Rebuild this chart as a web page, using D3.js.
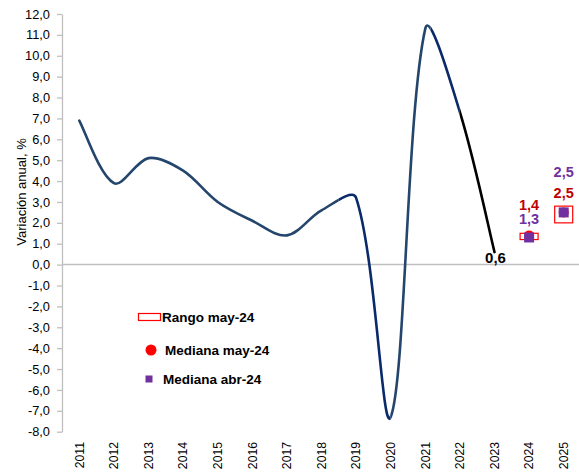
<!DOCTYPE html>
<html>
<head>
<meta charset="utf-8">
<script src="https://cdn.jsdelivr.net/npm/d3@7"></script>
<style>
  body { margin: 0; background: #fff; }
  text { font-family: "Liberation Sans", Arial, sans-serif; }
</style>
</head>
<body>
<script>
// Data
const years = [2011, 2012, 2013, 2014, 2015, 2016, 2017, 2018, 2019, 2020, 2021, 2022, 2023, 2024, 2025];
const histYears = [2011, 2012, 2013, 2014, 2015, 2016, 2017, 2018, 2019, 2020, 2021, 2022, 2023];
const histValues = [6.9, 3.9, 5.1, 4.5, 3.0, 2.1, 1.4, 2.6, 3.2, -7.3, 11.3, 7.3, 0.6];
const forecastYears = [2024, 2025];
const rangeLow = [1.2, 2.0];
const rangeHigh = [1.5, 2.8];
const medianMay = [1.4, 2.5];
const medianApr = [1.3, 2.5];
const yTicks = d3.range(-8, 13, 1);
// colour pieces of the historical line (in years)
const segFrom = [2010.5, 2018.5, 2020.0, 2021.15, 2022.0];
const segTo = [2018.5, 2020.0, 2021.15, 2022.0, 2025.5];
const segColor = ["#24466c", "#0a2a6a", "#24466c", "#0a2a6a", "#000000"];

const width = 579, height = 473;
const margin = {top: 14, right: -2, bottom: 41, left: 62};

const svg = d3.select("body").append("svg")
    .attr("width", width)
    .attr("height", height);

const x = d3.scaleLinear()
    .domain([2010.5, 2025.5])
    .range([margin.left, width - margin.right]);

const y = d3.scaleLinear()
    .domain([-8, 12])
    .range([height - margin.bottom - 0.3, margin.top]);

const fmt = d => d.toFixed(1).replace(".", ",");

// Y axis
const yAxis = svg.append("g")
    .attr("transform", `translate(${margin.left},0)`)
    .call(d3.axisLeft(y).tickValues(yTicks).tickFormat(fmt).tickSize(5).tickSizeOuter(0).tickPadding(7));
yAxis.select(".domain").attr("stroke", "#bfbfbf").attr("stroke-width", 1.3);
yAxis.selectAll(".tick line").attr("stroke", "#bfbfbf").attr("stroke-width", 1.3);
yAxis.selectAll(".tick text")
    .attr("font-size", 12.8)
    .attr("fill", "#000")
    .style("font-family", "Liberation Sans, Arial, sans-serif");

// Zero line
svg.append("line")
    .attr("x1", margin.left).attr("x2", width)
    .attr("y1", y(0)).attr("y2", y(0))
    .attr("stroke", "#bfbfbf")
    .attr("stroke-width", 1.5);

// Y title
svg.append("text")
    .attr("transform", `translate(21,${192}) rotate(-90)`)
    .attr("text-anchor", "middle")
    .attr("dy", "0.35em")
    .attr("font-size", 13)
    .text("Variación anual, %");

// X labels
svg.append("g").selectAll("text")
    .data(years)
    .join("text")
    .attr("transform", d => `translate(${x(d)},442) rotate(-90)`)
    .attr("text-anchor", "end")
    .attr("dy", "0.35em")
    .attr("font-size", 12.2)
    .text(d => d);

// Smoothed line a la spreadsheet: bezier with tangents (P[i+1]-P[i-1])/6,
// scaled by neighbouring segment lengths
function smoothPath(pts) {
    const n = pts.length;
    const dist = (a, b) => Math.hypot(b[0] - a[0], b[1] - a[1]);
    const tan = pts.map((p, i) => {
        const a = pts[Math.max(0, i - 1)], b = pts[Math.min(n - 1, i + 1)];
        return [(b[0] - a[0]) / 6, (b[1] - a[1]) / 6];
    });
    const p = d3.path();
    p.moveTo(pts[0][0], pts[0][1]);
    for (let i = 0; i < n - 1; i++) {
        const p0 = pts[i], p1 = pts[i + 1];
        const d = dist(p0, p1);
        const sOut = i > 0 ? 2 * d / (dist(pts[i - 1], p0) + d) : 1;
        const sIn = i + 2 < n ? 2 * d / (d + dist(p1, pts[i + 2])) : 1;
        p.bezierCurveTo(
            p0[0] + tan[i][0] * sOut, p0[1] + tan[i][1] * sOut,
            p1[0] - tan[i + 1][0] * sIn, p1[1] - tan[i + 1][1] * sIn,
            p1[0], p1[1]);
    }
    return p.toString();
}

const pathD = smoothPath(histYears.map((yr, i) => [x(yr), y(histValues[i])]));

const defs = svg.append("defs");
segFrom.forEach((f, i) => {
    defs.append("clipPath").attr("id", "seg" + i)
        .append("rect")
        .attr("x", x(f)).attr("width", x(segTo[i]) - x(f))
        .attr("y", 0).attr("height", height);
    svg.append("path")
        .attr("d", pathD)
        .attr("fill", "none")
        .attr("stroke", segColor[i])
        .attr("stroke-width", 2.6)
        .attr("stroke-linecap", "round")
        .attr("clip-path", `url(#seg${i})`);
});

// Forecast range boxes
const fc = forecastYears.map((yr, i) => ({yr, lo: rangeLow[i], hi: rangeHigh[i], may: medianMay[i], apr: medianApr[i]}));
svg.append("g").selectAll("rect")
    .data(fc)
    .join("rect")
    .attr("x", d => x(d.yr) - 9)
    .attr("width", 18)
    .attr("y", d => y(d.hi))
    .attr("height", d => y(d.lo) - y(d.hi))
    .attr("fill", "#fff")
    .attr("stroke", "#ff0000")
    .attr("stroke-width", 1.2);

// Median May (red circles)
svg.append("g").selectAll("circle")
    .data(fc)
    .join("circle")
    .attr("cx", d => x(d.yr))
    .attr("cy", d => y(d.may))
    .attr("r", 5)
    .attr("fill", "#ff0000");

// Median April (purple squares)
svg.append("g").selectAll("rect")
    .data(fc)
    .join("rect")
    .attr("x", d => x(d.yr) - 5)
    .attr("y", d => y(d.apr) - 5)
    .attr("width", 10)
    .attr("height", 10)
    .attr("fill", "#7030a0");

// Data labels
const lastIdx = histValues.length - 1;
svg.append("text")
    .attr("x", x(histYears[lastIdx]) + 1)
    .attr("y", y(histValues[lastIdx]) + 11)
    .attr("text-anchor", "middle")
    .attr("font-size", 15)
    .attr("font-weight", "bold")
    .text(fmt(histValues[lastIdx]));

// 2024: red above purple; 2025: purple above red
const labOffsets = [{may: -23.5, apr: -9}, {may: -8, apr: -29}];
fc.forEach((d, i) => {
    svg.append("text")
        .attr("x", x(d.yr))
        .attr("y", y(d.hi) + labOffsets[i].may)
        .attr("text-anchor", "middle")
        .attr("font-size", 14.5)
        .attr("font-weight", "bold")
        .attr("fill", "#c00000")
        .text(fmt(d.may));
    svg.append("text")
        .attr("x", x(d.yr))
        .attr("y", y(d.hi) + labOffsets[i].apr)
        .attr("text-anchor", "middle")
        .attr("font-size", 14.5)
        .attr("font-weight", "bold")
        .attr("fill", "#7030a0")
        .text(fmt(d.apr));
});

// Legend
const legend = svg.append("g");
legend.append("rect")
    .attr("x", 138.5).attr("y", 313.5)
    .attr("width", 22).attr("height", 7)
    .attr("fill", "#fff").attr("stroke", "#ff0000").attr("stroke-width", 1.2);
legend.append("circle")
    .attr("cx", 151).attr("cy", 350).attr("r", 5.5)
    .attr("fill", "#ff0000");
legend.append("rect")
    .attr("x", 145.5).attr("y", 375.5).attr("width", 7).attr("height", 7)
    .attr("fill", "#7030a0");
const legendText = ["Rango may-24", "Mediana may-24", "Mediana abr-24"];
const legendX = [162, 165, 163];
const legendY = [322, 355, 384];
legend.selectAll("text")
    .data(legendText)
    .join("text")
    .attr("x", (d, i) => legendX[i])
    .attr("y", (d, i) => legendY[i])
    .attr("font-size", 13.5)
    .attr("font-weight", "bold")
    .text(d => d);
</script>
</body>
</html>
